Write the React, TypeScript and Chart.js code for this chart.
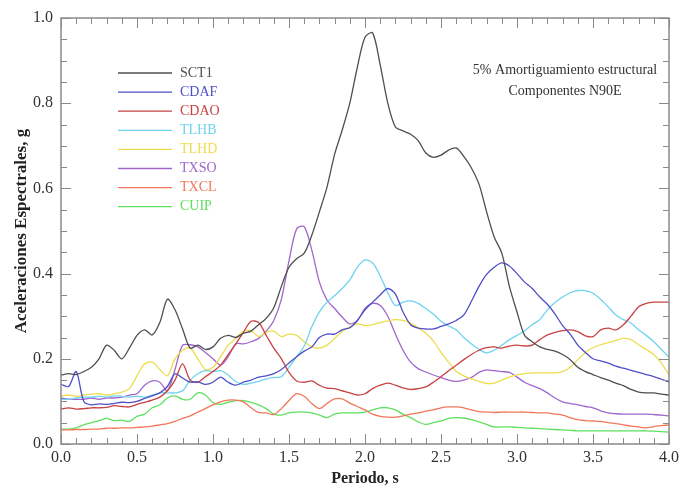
import { useEffect, useRef } from 'react';
import { Chart, registerables } from 'chart.js';

Chart.register(...registerables);

const periods = [
  0.0, 0.05, 0.1, 0.15, 0.2, 0.25, 0.3, 0.35, 0.4, 0.45,
  0.5, 0.55, 0.6, 0.65, 0.7, 0.75, 0.8, 0.85, 0.9, 0.95,
  1.0, 1.05, 1.1, 1.15, 1.2, 1.25, 1.3, 1.35, 1.4, 1.45,
  1.5, 1.55, 1.6, 1.65, 1.7, 1.75, 1.8, 1.85, 1.9, 1.95,
  2.0, 2.05, 2.1, 2.15, 2.2, 2.25, 2.3, 2.35, 2.4, 2.45,
  2.5, 2.55, 2.6, 2.65, 2.7, 2.75, 2.8, 2.85, 2.9, 2.95,
  3.0, 3.05, 3.1, 3.15, 3.2, 3.25, 3.3, 3.35, 3.4, 3.45,
  3.5, 3.55, 3.6, 3.65, 3.7, 3.75, 3.8, 3.85, 3.9, 3.95,
  4.0,
];

const sct1 = [
  0.162, 0.165, 0.163, 0.17, 0.18, 0.2, 0.232, 0.22, 0.2, 0.225,
  0.255, 0.268, 0.256, 0.285, 0.34, 0.315, 0.27, 0.225, 0.232, 0.222,
  0.228, 0.248, 0.255, 0.25, 0.26, 0.265, 0.28, 0.295, 0.32, 0.37,
  0.415, 0.435, 0.448, 0.49, 0.545, 0.603, 0.68, 0.737, 0.8, 0.885,
  0.955, 0.965, 0.89, 0.8, 0.744, 0.735, 0.727, 0.712, 0.683, 0.673,
  0.678, 0.69, 0.695, 0.675, 0.648, 0.61, 0.545, 0.486, 0.448, 0.37,
  0.31, 0.255, 0.24, 0.228, 0.222, 0.218, 0.21, 0.198, 0.18, 0.17,
  0.163, 0.156, 0.15, 0.143, 0.137, 0.128, 0.122, 0.12, 0.12, 0.117,
  0.115,
];

const cdaf = [
  0.14, 0.135, 0.17, 0.1, 0.092, 0.094, 0.093, 0.095, 0.098, 0.097,
  0.1, 0.107, 0.113, 0.12, 0.135, 0.165, 0.155, 0.145, 0.146, 0.14,
  0.145, 0.157, 0.145, 0.138, 0.145, 0.15, 0.157, 0.16, 0.165, 0.175,
  0.19, 0.205, 0.218, 0.228, 0.25, 0.258, 0.258, 0.268, 0.273, 0.29,
  0.315, 0.333, 0.35, 0.365, 0.352, 0.31, 0.28, 0.272, 0.27, 0.27,
  0.276, 0.282, 0.29, 0.303, 0.335, 0.37, 0.398, 0.415, 0.425, 0.418,
  0.4, 0.38, 0.365, 0.345, 0.328, 0.305, 0.278, 0.258, 0.232, 0.215,
  0.2, 0.195, 0.19, 0.183, 0.178, 0.173, 0.168, 0.163, 0.158, 0.152,
  0.146,
];

const cdao = [
  0.082, 0.085, 0.082, 0.083, 0.085, 0.085, 0.086, 0.09, 0.088, 0.087,
  0.093, 0.098, 0.103, 0.11, 0.125, 0.15, 0.188, 0.15, 0.145, 0.158,
  0.17, 0.185, 0.21, 0.235, 0.262, 0.288, 0.285, 0.255, 0.225, 0.2,
  0.168, 0.148, 0.145, 0.148, 0.138, 0.131, 0.13, 0.125, 0.12, 0.115,
  0.118, 0.13, 0.138, 0.143, 0.138, 0.132, 0.128, 0.13, 0.134, 0.145,
  0.158, 0.172, 0.185, 0.198, 0.21, 0.22, 0.226, 0.228, 0.225, 0.23,
  0.232, 0.23, 0.232, 0.245, 0.256, 0.262, 0.266, 0.268, 0.264, 0.254,
  0.252, 0.268, 0.272, 0.268, 0.28, 0.3, 0.322, 0.33, 0.333, 0.333,
  0.333,
];

const tlhb = [
  0.105, 0.105, 0.108, 0.11, 0.11, 0.112, 0.11, 0.113, 0.112, 0.11,
  0.112, 0.11, 0.115, 0.12, 0.12, 0.12, 0.125, 0.15, 0.165, 0.172,
  0.17, 0.172, 0.162, 0.146, 0.14, 0.143, 0.147, 0.153, 0.156, 0.158,
  0.18, 0.205, 0.23, 0.275, 0.31, 0.333, 0.348, 0.365, 0.385, 0.415,
  0.432, 0.425, 0.395, 0.355, 0.325, 0.333, 0.336, 0.33, 0.318, 0.305,
  0.288, 0.277, 0.268, 0.25, 0.235, 0.222, 0.214, 0.22, 0.232, 0.245,
  0.255, 0.266, 0.28, 0.292, 0.315, 0.332, 0.345, 0.355, 0.36, 0.36,
  0.354, 0.34, 0.322, 0.303, 0.292, 0.284, 0.268, 0.255, 0.24, 0.222,
  0.204,
];

const tlhd = [
  0.113, 0.115, 0.112, 0.115, 0.117, 0.118, 0.115, 0.118, 0.122, 0.13,
  0.16, 0.188, 0.192, 0.175, 0.16, 0.2, 0.22, 0.225, 0.2, 0.175,
  0.18, 0.205, 0.232, 0.248, 0.265, 0.266, 0.252, 0.262, 0.265, 0.252,
  0.258, 0.255, 0.24, 0.228, 0.225, 0.232, 0.248, 0.264, 0.275, 0.282,
  0.278, 0.28, 0.285, 0.289, 0.292, 0.29, 0.283, 0.273, 0.26, 0.242,
  0.215, 0.192, 0.17, 0.16, 0.153, 0.147, 0.142, 0.143, 0.15, 0.157,
  0.162, 0.165, 0.167, 0.167, 0.167, 0.167, 0.17, 0.18, 0.198, 0.215,
  0.226, 0.233, 0.238, 0.243, 0.248, 0.245, 0.233, 0.222, 0.21, 0.19,
  0.162,
];

const txso = [
  0.108, 0.105, 0.105, 0.105, 0.108, 0.105, 0.108, 0.108, 0.11, 0.115,
  0.118, 0.138, 0.148, 0.145, 0.125, 0.175, 0.232, 0.233, 0.228, 0.215,
  0.2, 0.185, 0.205, 0.235, 0.235, 0.24, 0.248, 0.265, 0.29, 0.34,
  0.43, 0.505, 0.51, 0.455, 0.38, 0.338, 0.318, 0.298, 0.282, 0.29,
  0.318, 0.33, 0.325, 0.3, 0.258, 0.22, 0.192, 0.177, 0.169, 0.162,
  0.156, 0.15, 0.147, 0.15, 0.156, 0.168, 0.174, 0.172, 0.17, 0.168,
  0.157, 0.145, 0.137, 0.13, 0.12, 0.108, 0.099, 0.095, 0.092, 0.088,
  0.085, 0.078, 0.073, 0.071, 0.07, 0.07, 0.07, 0.07, 0.069, 0.068,
  0.066,
];

const txcl = [
  0.033, 0.033, 0.034, 0.034, 0.035, 0.035, 0.037, 0.037, 0.038, 0.038,
  0.039, 0.04, 0.042, 0.045, 0.048, 0.053, 0.06, 0.066, 0.075, 0.083,
  0.092, 0.099, 0.103, 0.103, 0.099, 0.085, 0.074, 0.073, 0.069, 0.083,
  0.102, 0.118, 0.112, 0.095, 0.083, 0.095, 0.106, 0.106, 0.096, 0.088,
  0.08, 0.07, 0.065, 0.063, 0.063, 0.066, 0.07, 0.073, 0.077, 0.08,
  0.085, 0.087, 0.087, 0.085, 0.08, 0.076, 0.075, 0.074, 0.075, 0.075,
  0.075, 0.075, 0.074, 0.073, 0.073, 0.07, 0.068, 0.062, 0.057, 0.055,
  0.054, 0.053, 0.05, 0.048, 0.045, 0.042, 0.04, 0.038, 0.041, 0.043,
  0.045,
];

const cuip = [
  0.035, 0.035, 0.038, 0.045, 0.05, 0.055, 0.06, 0.055, 0.056, 0.053,
  0.065, 0.07, 0.085, 0.092, 0.108, 0.113, 0.105, 0.105, 0.12, 0.115,
  0.097, 0.093, 0.098, 0.102, 0.102, 0.098, 0.092, 0.083, 0.07, 0.068,
  0.073, 0.075, 0.075, 0.073, 0.068, 0.062, 0.07, 0.073, 0.073, 0.073,
  0.075, 0.08, 0.085, 0.085, 0.08, 0.07, 0.062, 0.052, 0.046, 0.05,
  0.054, 0.06, 0.062, 0.061, 0.057, 0.052, 0.046, 0.04, 0.04, 0.04,
  0.039, 0.038, 0.037, 0.036, 0.035, 0.034, 0.033, 0.032, 0.031, 0.031,
  0.031, 0.031, 0.031, 0.031, 0.031, 0.031, 0.031, 0.031, 0.03, 0.029,
  0.028,
];

const seriesNames = ['SCT1', 'CDAF', 'CDAO', 'TLHB', 'TLHD', 'TXSO', 'TXCL', 'CUIP'];
const seriesValues = [sct1, cdaf, cdao, tlhb, tlhd, txso, txcl, cuip];
const seriesColors = ['#4f4f4f', '#4f4fc6', '#c94242', '#6fd3ef', '#eedc4e', '#a066cc', '#f2775a', '#5fdf5f'];

const xTickValues = [0, 0.5, 1, 1.5, 2, 2.5, 3, 3.5, 4];
const xTickLabels = ['0.0', '0.5', '1.0', '1.5', '2.0', '2.5', '3.0', '3.5', '4.0'];
const yTickValues = [0, 0.2, 0.4, 0.6, 0.8, 1.0];
const yTickLabels = ['0.0', '0.2', '0.4', '0.6', '0.8', '1.0'];

const xTitle = 'Periodo, s';
const yTitle = 'Aceleraciones Espectrales, g';
const noteLines = ['5% Amortiguamiento estructural', 'Componentes N90E'];

const SERIF = "'Liberation Serif', 'Times New Roman', serif";

const framePlugin = {
  id: 'frameTicks',
  afterDatasetsDraw(chart: any) {
    const { ctx, chartArea: a, scales } = chart;
    const x = scales.x;
    const y = scales.y;
    ctx.save();
    ctx.strokeStyle = '#8a8a8a';
    ctx.lineWidth = 1.5;
    ctx.strokeRect(a.left, a.top, a.right - a.left, a.bottom - a.top);
    ctx.lineWidth = 1;
    ctx.beginPath();
    for (let i = 0; i <= 40; i++) {
      const px = Math.round(x.getPixelForValue(i / 10)) + 0.5;
      const len = i % 5 === 0 ? 10 : 6;
      ctx.moveTo(px, a.bottom);
      ctx.lineTo(px, a.bottom - len);
      ctx.moveTo(px, a.top);
      ctx.lineTo(px, a.top + len);
    }
    for (let i = 0; i <= 20; i++) {
      const py = Math.round(y.getPixelForValue(i * 0.05)) + 0.5;
      const len = i % 4 === 0 ? 10 : 6;
      ctx.moveTo(a.left, py);
      ctx.lineTo(a.left + len, py);
      ctx.moveTo(a.right, py);
      ctx.lineTo(a.right - len, py);
    }
    ctx.stroke();

    // legend
    ctx.font = `14px ${SERIF}`;
    ctx.textBaseline = 'middle';
    ctx.textAlign = 'left';
    chart.data.datasets.forEach((ds: any, i: number) => {
      const ly = 73 + i * 19.1;
      ctx.strokeStyle = ds.borderColor;
      ctx.lineWidth = 1.3;
      ctx.beginPath();
      ctx.moveTo(118, ly);
      ctx.lineTo(172, ly);
      ctx.stroke();
      ctx.fillStyle = ds.borderColor;
      ctx.fillText(ds.label, 180, ly);
    });

    // note
    ctx.fillStyle = '#333';
    ctx.textAlign = 'center';
    ctx.font = `14px ${SERIF}`;
    noteLines.forEach((t, i) => ctx.fillText(t, 565, 70 + i * 21));
    ctx.restore();
  },
};

export default function App() {
  const ref = useRef<HTMLCanvasElement | null>(null);

  useEffect(() => {
    document.body.style.margin = '0';
    const canvas = ref.current;
    if (!canvas) return;
    const chart = new Chart(canvas, {
      type: 'line',
      data: {
        datasets: seriesNames.map((name, i) => ({
          label: name,
          data: periods.map((p, j) => ({ x: p, y: seriesValues[i][j] })),
          borderColor: seriesColors[i],
          backgroundColor: seriesColors[i],
          borderWidth: 1.3,
          pointRadius: 0,
          tension: 0.3,
          fill: false,
        })),
      },
      options: {
        animation: false,
        responsive: false,
        devicePixelRatio: 1,
        layout: { padding: { top: 18, right: 13, left: 0, bottom: 0 } },
        plugins: { legend: { display: false }, tooltip: { enabled: false } },
        scales: {
          x: {
            type: 'linear',
            min: 0,
            max: 4,
            grid: { display: false, drawTicks: false },
            border: { display: false },
            afterBuildTicks: (s: any) => {
              s.ticks = xTickValues.map((v) => ({ value: v }));
            },
            ticks: {
              padding: 4,
              color: '#333',
              font: { family: SERIF, size: 16 },
              maxRotation: 0,
              autoSkip: false,
              callback: (_v: any, i: number) => xTickLabels[i],
            },
            title: {
              display: true,
              text: xTitle,
              color: '#222',
              font: { family: SERIF, size: 16, weight: 'bold' },
              padding: { top: 0, bottom: 1 },
            },
            afterFit: (s: any) => {
              s.height = 45;
            },
          },
          y: {
            type: 'linear',
            min: 0,
            max: 1,
            grid: { display: false, drawTicks: false },
            border: { display: false },
            afterBuildTicks: (s: any) => {
              s.ticks = yTickValues.map((v) => ({ value: v }));
            },
            ticks: {
              padding: 8,
              color: '#333',
              font: { family: SERIF, size: 16 },
              autoSkip: false,
              callback: (_v: any, i: number) => yTickLabels[i],
            },
            title: {
              display: true,
              text: yTitle,
              color: '#222',
              font: { family: SERIF, size: 17, weight: 'bold' },
              padding: { top: 11, bottom: 0 },
            },
            afterFit: (s: any) => {
              s.width = 61;
            },
          },
        },
      },
      plugins: [framePlugin],
    } as any);
    return () => chart.destroy();
  }, []);

  return (
    <div style={{ width: 683, height: 489, background: '#fff' }}>
      <canvas ref={ref} width={683} height={489} style={{ display: 'block' }} />
    </div>
  );
}
